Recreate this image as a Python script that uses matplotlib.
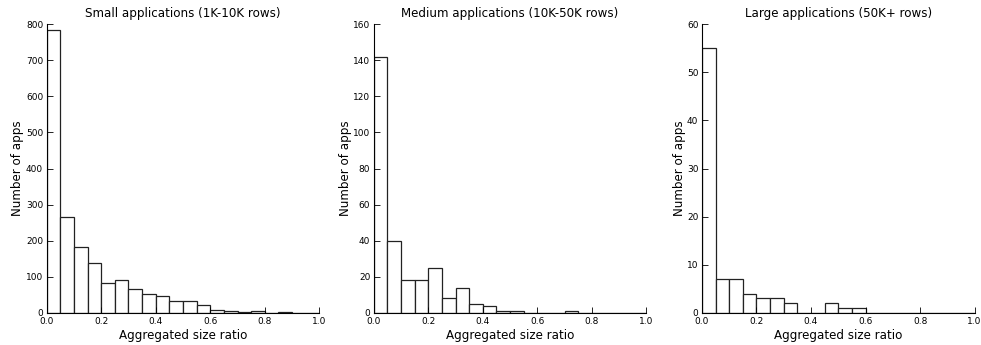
import matplotlib
matplotlib.use("Agg")
import matplotlib.pyplot as plt
import numpy as np

bin_edges = [round(0.05 * i, 2) for i in range(21)]
small_counts = [785, 267, 182, 139, 84, 91, 65, 53, 47, 32, 32, 23, 9, 6, 3, 5, 0, 2, 0, 0]
medium_counts = [142, 40, 18, 18, 25, 8, 14, 5, 4, 1, 1, 0, 0, 0, 1, 0, 0, 0, 0, 0]
large_counts = [55, 7, 7, 4, 3, 3, 2, 0, 0, 2, 1, 1, 0, 0, 0, 0, 0, 0, 0, 0]

titles = ["Small applications (1K-10K rows)",
          "Medium applications (10K-50K rows)",
          "Large applications (50K+ rows)"]
ylims = [800, 160, 60]
xticks = [0.0, 0.2, 0.4, 0.6, 0.8, 1.0]
xlabel = "Aggregated size ratio"
ylabel = "Number of apps"

fig = plt.figure(figsize=(9.81, 3.45), dpi=100)
lefts = [0.0475, 0.381, 0.7155]
width = 0.278
bottom = 0.093
height = 0.837

for i, counts in enumerate([small_counts, medium_counts, large_counts]):
    ax = fig.add_axes([lefts[i], bottom, width, height])
    centers = [(bin_edges[j] + bin_edges[j + 1]) / 2 for j in range(len(counts))]
    ax.hist(centers, bins=bin_edges, weights=counts, facecolor="white",
            edgecolor="#222222", linewidth=0.9)
    ax.set_xlim(0, 1)
    ax.set_ylim(0, ylims[i])
    ax.set_xticks(xticks)
    ax.set_xticklabels([f"{t:.1f}" for t in xticks])
    ax.spines["top"].set_visible(False)
    ax.spines["right"].set_visible(False)
    ax.spines["left"].set_linewidth(0.8)
    ax.spines["bottom"].set_linewidth(0.8)
    ax.tick_params(direction="in", length=4, width=0.6, labelsize=6.5,
                   top=False, right=False, pad=2.5)
    ax.tick_params(axis="x", pad=3)
    ax.set_title(titles[i], fontsize=8.6, pad=5)
    ax.set_xlabel(xlabel, fontsize=8.6, labelpad=2)
    ax.set_ylabel(ylabel, fontsize=8.6, labelpad=1)

fig.savefig("out.png", dpi=100)
